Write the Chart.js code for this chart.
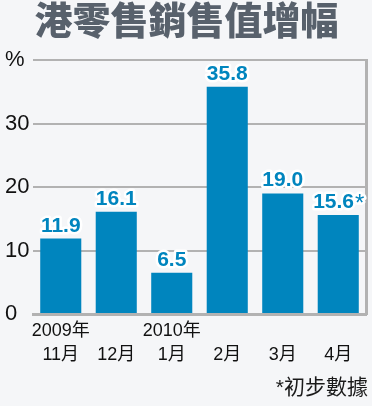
<!DOCTYPE html>
<html>
<head>
<meta charset="utf-8">
<script src="https://cdn.jsdelivr.net/npm/chart.js@4"></script>
<style>
  html, body { margin: 0; padding: 0; background: #f5f6f8; }
  #wrap { width: 372px; height: 406px; position: relative; }
</style>
</head>
<body>
<div id="wrap"><canvas id="chart"></canvas></div>
<script>
// values
const yearLabels = ["2009年", "", "2010年", "", "", ""];
const monthLabels = ["11月", "12月", "1月", "2月", "3月", "4月"];
const growth = [11.9, 16.1, 6.5, 35.8, 19.0, 15.6];
const marks = ["", "", "", "", "", "*"];
const yTicks = [0, 10, 20, 30, 40];

const blue = "#0085be";
const gridGray = "#b2b2b2";
const cjk = "'Liberation Sans', 'Noto Sans CJK TC', sans-serif";

// value labels above the bars, white halo like the print
const barLabels = {
    id: "barLabels",
    afterDatasetsDraw(chart) {
        const ctx = chart.ctx;
        const meta = chart.getDatasetMeta(0);
        ctx.save();
        meta.data.forEach((bar, i) => {
            const num = growth[i].toFixed(1);
            const star = marks[i];
            ctx.font = "bold 21px 'Liberation Sans', Arial, sans-serif";
            const wNum = ctx.measureText(num).width;
            ctx.font = "24px 'Liberation Sans', Arial, sans-serif";
            const wStar = star ? ctx.measureText(star).width : 0;
            const x0 = bar.x - (wNum + wStar) / 2;
            const y = bar.y - 7;
            ctx.textAlign = "left";
            ctx.textBaseline = "alphabetic";
            ctx.lineJoin = "round";
            ctx.strokeStyle = "#ffffff";
            ctx.lineWidth = 5;
            ctx.fillStyle = blue;
            ctx.font = "bold 21px 'Liberation Sans', Arial, sans-serif";
            ctx.strokeText(num, x0, y);
            ctx.fillText(num, x0, y);
            if (star) {
                ctx.font = "24px 'Liberation Sans', Arial, sans-serif";
                ctx.strokeText(star, x0 + wNum + 1, y + 3);
                ctx.fillText(star, x0 + wNum + 1, y + 3);
            }
        });
        ctx.restore();
    }
};

new Chart(document.getElementById("chart"), {
    type: "bar",
    data: {
        labels: monthLabels.map((m, i) => [yearLabels[i], m]),
        datasets: [{
            data: growth,
            backgroundColor: blue,
            borderWidth: 0,
            barPercentage: 0.74,
            categoryPercentage: 1.0
        }]
    },
    options: {
        responsive: true,
        maintainAspectRatio: false,
        animation: false,
        layout: { padding: { left: 5, right: 4, top: 0, bottom: 7 } },
        plugins: {
            legend: { display: false },
            tooltip: { enabled: false },
            title: {
                display: true,
                text: "港零售銷售值增幅",
                color: "#58616c",
                font: { family: "'Noto Sans CJK TC', sans-serif", size: 38, weight: "900", lineHeight: 1.0 },
                padding: { top: 1, bottom: 21 }
            },
            subtitle: {
                display: true,
                position: "bottom",
                align: "end",
                text: "*初步數據",
                color: "#1a1a1a",
                font: { family: cjk, size: 21, lineHeight: 1.0 },
                padding: { top: 6, bottom: 0 }
            }
        },
        scales: {
            x: {
                grid: { display: false, drawTicks: false },
                border: { display: true, color: gridGray, width: 3 },
                ticks: {
                    color: "#111",
                    font: { family: cjk, size: 18, lineHeight: 1.33 },
                    padding: 5,
                    maxRotation: 0,
                    autoSkip: false
                }
            },
            y: {
                min: 0,
                max: 40,
                afterBuildTicks: (axis) => { axis.ticks = yTicks.map(v => ({ value: v })); },
                afterFit: (axis) => { axis.width = 28; },
                border: { display: false },
                grid: { color: gridGray, lineWidth: 2, drawTicks: false },
                ticks: {
                    crossAlign: "far",
                    color: "#111",
                    font: { family: "'Liberation Sans', Arial, sans-serif", size: 22 },
                    callback: (v) => v === 40 ? "%" : v
                }
            },
            yRight: {
                position: "right",
                min: 0,
                max: 40,
                grid: { display: false, drawTicks: false },
                border: { display: true, color: gridGray, width: 3 },
                ticks: { display: false },
                afterFit: (axis) => { axis.width = 2; }
            }
        }
    },
    plugins: [barLabels]
});
</script>
</body>
</html>
